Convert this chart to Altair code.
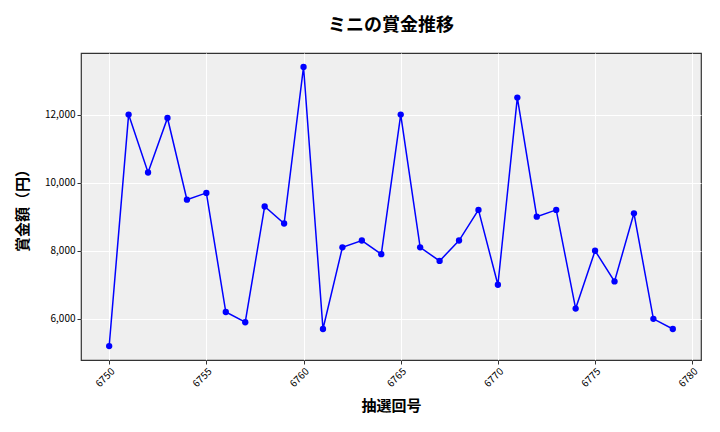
import altair as alt
import pandas as pd

draws = list(range(6750, 6780))
prizes = [5200, 12000, 10300, 11900, 9500, 9700, 6200, 5900, 9300, 8800,
          13400, 5700, 8100, 8300, 7900, 12000, 8100, 7700, 8300, 9200,
          7000, 12500, 9000, 9200, 6300, 8000, 7100, 9100, 6000, 5700]
x_ticks = [6750, 6755, 6760, 6765, 6770, 6775, 6780]
y_ticks = [6000, 8000, 10000, 12000]

df = pd.DataFrame({"draw": draws, "prize": prizes})

FONT = "Noto Sans CJK JP"

x = alt.X("draw:Q", scale=alt.Scale(domain=[6748.55, 6780.45], nice=False, zero=False),
          axis=alt.Axis(values=x_ticks, labelExpr="format(datum.value, 'd')", labelAngle=-45,
                        title="抽選回号", titleFontSize=15, titleFontWeight="bold",
                        titlePadding=10, labelFontSize=10, grid=True))
y = alt.Y("prize:Q", scale=alt.Scale(domain=[4790, 13810], nice=False, zero=False),
          axis=alt.Axis(values=y_ticks, labelExpr="format(datum.value, ',d')",
                        title="賞金額（円）", titleFontSize=15, titleFontWeight="bold",
                        titlePadding=14, labelFontSize=10, grid=True))

line = alt.Chart(df).mark_line(color="#0000ff", strokeWidth=1.5).encode(x=x, y=y)
pts = alt.Chart(df).mark_circle(color="#0000ff", opacity=1, size=40).encode(x=x, y=y)

chart = (line + pts).properties(
    width=620, height=307,
    background="#ffffff",
    title=alt.TitleParams("ミニの賞金推移", fontSize=18, fontWeight="bold", anchor="middle",
                          offset=18, font=FONT, color="#000000"),
    autosize=alt.AutoSizeParams(type="none"),
    padding={"left": 73, "top": 45, "right": 10, "bottom": 64},
).configure_view(
    fill="#efefef", stroke="#333333", strokeWidth=1.2
).configure_axis(
    labelFont=FONT, titleFont=FONT, labelColor="#000000", titleColor="#000000",
    gridColor="#ffffff", gridWidth=1, domain=False, tickColor="#333333", tickSize=4,
    labelPadding=2
)

chart.save("out.html", embed_options={"renderer": "svg", "actions": False})
